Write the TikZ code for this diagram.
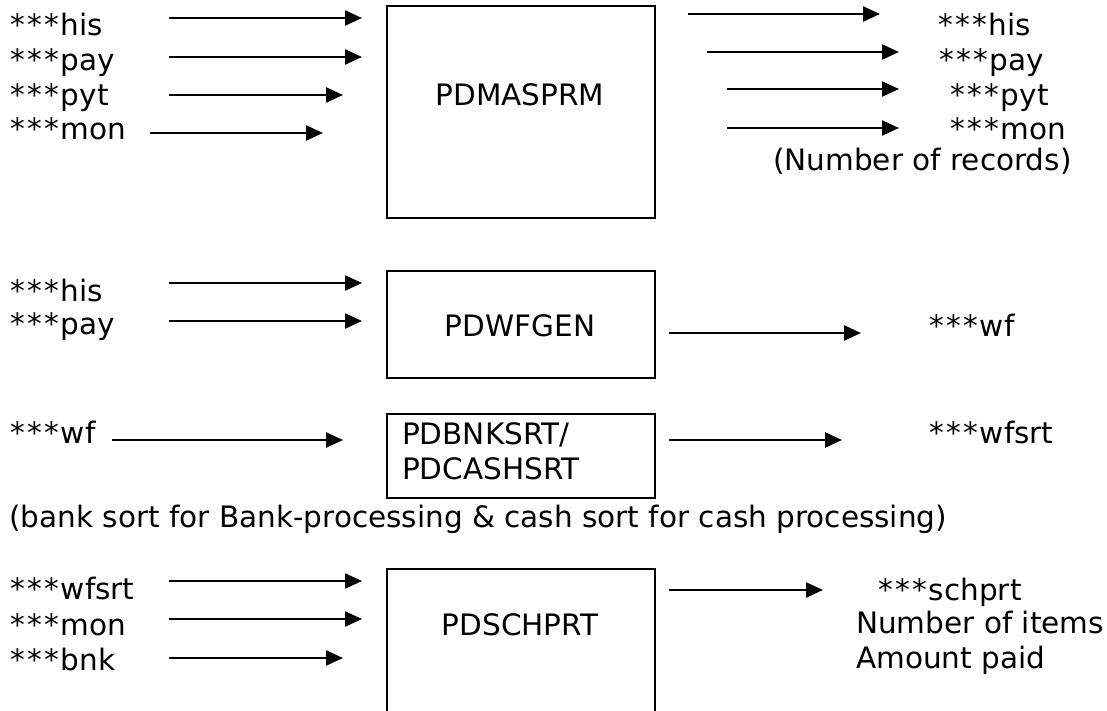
\documentclass[tikz,border=0pt]{standalone}
\usepackage{fontspec}
\setmainfont{DejaVu Sans}
\usetikzlibrary{arrows.meta}
\newcommand\stars{*\kern2.5pt*\kern2.5pt*\kern1.5pt}

\begin{document}
\begin{tikzpicture}[x=1pt,y=-1pt,
  txt/.style={inner sep=0pt, font=\fontsize{29.5}{35}\selectfont},
  lbl/.style={txt, anchor=base west},
  ctr/.style={txt, anchor=base},
  proc/.style={draw, line width=2.4pt, inner sep=0pt, minimum width=268pt},
  flow/.style={line width=2.4pt, -{Triangle[length=17pt,width=15pt]}}]
\clip (0,0) rectangle (1107,711);
\useasboundingbox (0,0) rectangle (1107,711);

% ---------- PDMASPRM ----------
\node (b1) [proc, minimum height=212pt] at (521,112) {};
\node (t1) [ctr] at (520,106) {PDMASPRM};

\node (i1a) [lbl] at (10,36)  {\stars his};
\node (i1b) [lbl] at (10,71)  {\stars pay};
\node (i1c) [lbl] at (10,106) {\stars pyt};
\node (i1d) [lbl] at (10,140) {\stars mon};

\coordinate (p1as) at (169,18);  \coordinate (p1ae) at (362,18);
\coordinate (p1bs) at (169,57);  \coordinate (p1be) at (362,57);
\coordinate (p1cs) at (169,95);  \coordinate (p1ce) at (343,95);
\coordinate (p1ds) at (150,133); \coordinate (p1de) at (323,133);
\draw[flow] (p1as) -- (p1ae);
\draw[flow] (p1bs) -- (p1be);
\draw[flow] (p1cs) -- (p1ce);
\draw[flow] (p1ds) -- (p1de);

\coordinate (q1as) at (688,14);  \coordinate (q1ae) at (880,14);
\coordinate (q1bs) at (707,52);  \coordinate (q1be) at (899,52);
\coordinate (q1cs) at (727,89);  \coordinate (q1ce) at (899,89);
\coordinate (q1ds) at (727,128); \coordinate (q1de) at (899,128);
\draw[flow] (q1as) -- (q1ae);
\draw[flow] (q1bs) -- (q1be);
\draw[flow] (q1cs) -- (q1ce);
\draw[flow] (q1ds) -- (q1de);

\node (o1a) [lbl] at (938,36)  {\stars his};
\node (o1b) [lbl] at (939,71)  {\stars pay};
\node (o1c) [lbl] at (950,106) {\stars pyt};
\node (o1d) [lbl] at (950,140) {\stars mon};
\node (o1e) [lbl] at (773,171) {(Number of records)};

% ---------- PDWFGEN ----------
\node (b2) [proc, minimum height=107pt] at (521,324.5) {};
\node (t2) [ctr] at (520,336) {PDWFGEN};

\node (i2a) [lbl] at (10,301) {\stars his};
\node (i2b) [lbl] at (10,334) {\stars pay};
\coordinate (p2as) at (169,283); \coordinate (p2ae) at (362,283);
\coordinate (p2bs) at (169,321); \coordinate (p2be) at (362,321);
\draw[flow] (p2as) -- (p2ae);
\draw[flow] (p2bs) -- (p2be);

\coordinate (q2s) at (669,333); \coordinate (q2e) at (861,333);
\draw[flow] (q2s) -- (q2e);
\node (o2) [lbl] at (929,336) {\stars wf};

% ---------- PDBNKSRT / PDCASHSRT ----------
\node (b3) [proc, minimum height=84pt] at (521,456) {};
\node (t3a) [lbl] at (402,444) {PDBNKSRT/};
\node (t3b) [lbl] at (402,479) {PDCASHSRT};

\node (i3) [lbl] at (10,443) {\stars wf};
\coordinate (p3s) at (112,440); \coordinate (p3e) at (343,440);
\draw[flow] (p3s) -- (p3e);

\coordinate (q3s) at (669,440); \coordinate (q3e) at (842,440);
\draw[flow] (q3s) -- (q3e);
\node (o3) [lbl] at (929,443) {\stars wfsrt};

\node (note) [lbl] at (9,527) {(bank sort for Bank-processing \& cash sort for cash processing)};

% ---------- PDSCHPRT ----------
\node (b4) [proc, minimum height=180pt] at (521,659) {};
\node (t4) [ctr] at (520,635) {PDSCHPRT};

\node (i4a) [lbl] at (10,599) {\stars wfsrt};
\node (i4b) [lbl] at (10,635) {\stars mon};
\node (i4c) [lbl] at (10,670) {\stars bnk};
\coordinate (p4as) at (169,581); \coordinate (p4ae) at (362,581);
\coordinate (p4bs) at (169,619); \coordinate (p4be) at (362,619);
\coordinate (p4cs) at (169,658); \coordinate (p4ce) at (343,658);
\draw[flow] (p4as) -- (p4ae);
\draw[flow] (p4bs) -- (p4be);
\draw[flow] (p4cs) -- (p4ce);

\coordinate (q4s) at (669,590); \coordinate (q4e) at (823,590);
\draw[flow] (q4s) -- (q4e);
\node (o4a) [lbl] at (878,600) {\stars schprt};
\node (o4b) [lbl] at (856,633) {Number of items};
\node (o4c) [lbl] at (856,668) {Amount paid};
\end{tikzpicture}
\end{document}
